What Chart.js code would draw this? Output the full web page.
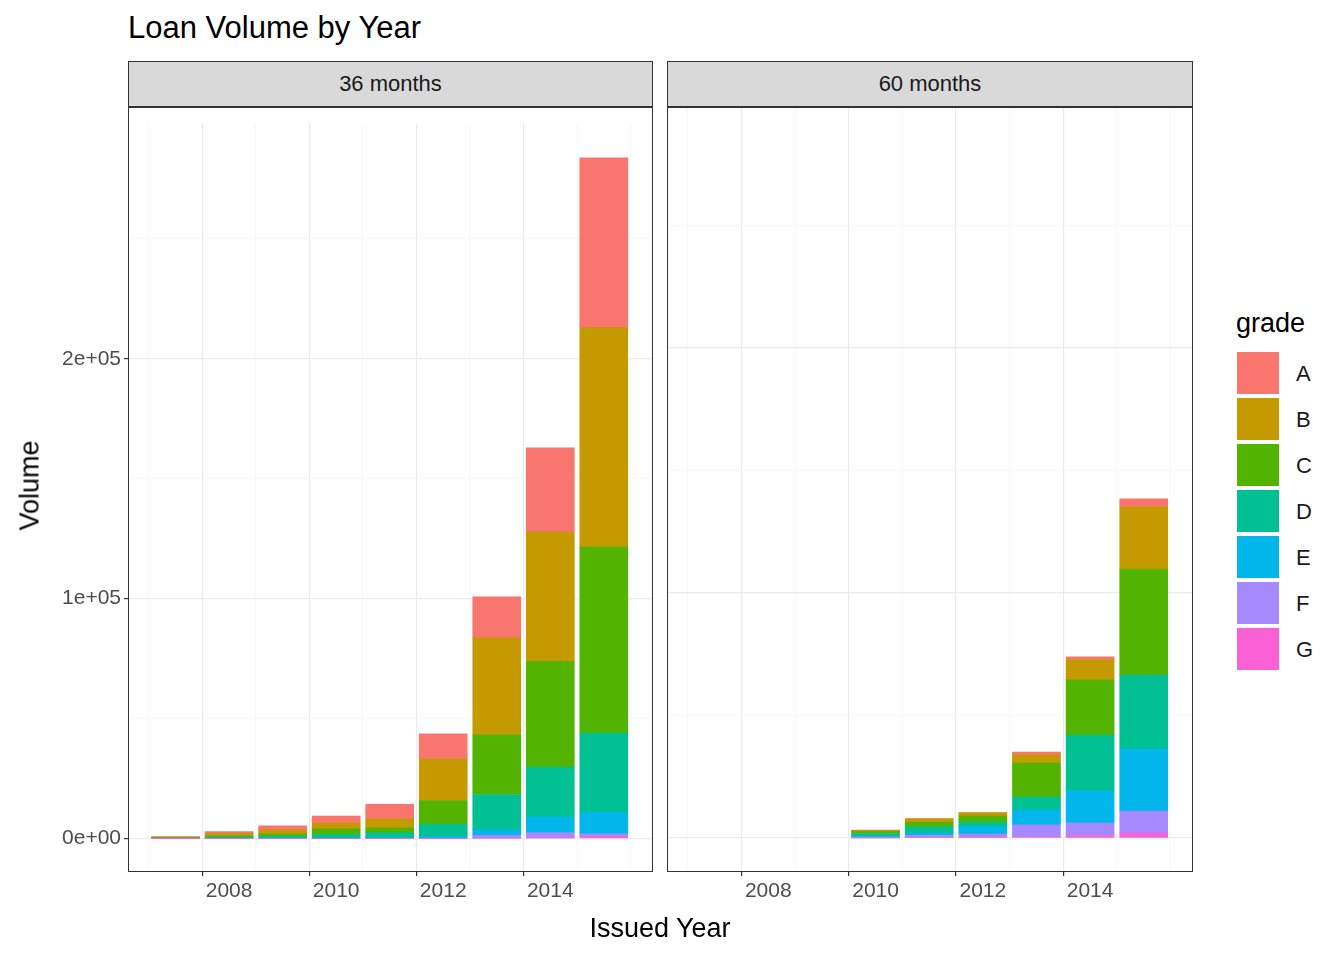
<!DOCTYPE html>
<html><head><meta charset="utf-8">
<script src="https://cdn.jsdelivr.net/npm/chart.js@4"></script>
<style>
body{margin:0;width:1344px;height:960px;background:#fff;font-family:Arial,"Liberation Sans",sans-serif;position:relative;overflow:hidden}
.abs{position:absolute}
.strip{position:absolute;top:61px;height:46px;background:#d9d9d9;border:1px solid #333;font-size:22px;color:#1a1a1a;display:flex;align-items:center;justify-content:center;box-sizing:border-box}
.frame{position:absolute;border:1px solid #333;box-sizing:border-box;pointer-events:none}
.sw{position:absolute;left:1237px;width:42px;height:42px}
.lab{position:absolute;left:1296px;font-size:22px;color:#1a1a1a}
</style></head><body>
<div class="abs" style="left:128px;top:10px;font-size:31px;color:#000">Loan Volume by Year</div>
<div class="strip" style="left:128px;width:525px">36 months</div>
<div class="strip" style="left:667px;width:526px">60 months</div>
<canvas id="c36" class="abs" style="left:0;top:108px"></canvas>
<canvas id="c60" class="abs" style="left:668px;top:108px"></canvas>
<div class="frame" style="left:128px;top:107px;width:525px;height:765px"></div>
<div class="frame" style="left:667px;top:107px;width:526px;height:765px"></div>
<div class="abs" style="left:560px;top:913px;width:200px;text-align:center;font-size:27px;color:#000">Issued Year</div>
<div class="abs" style="left:-60px;top:470px;width:180px;text-align:center;font-size:27px;color:#000;transform:rotate(-90deg)">Volume</div>
<div class="abs" style="left:1236px;top:308px;font-size:27px;color:#000">grade</div>
<div id="legend"></div>
<script>
const grades = ['A','B','C','D','E','F','G'];
const colors = ['#F8766D','#C49A00','#53B400','#00C094','#00B6EB','#A58AFF','#FB61D7'];
const years36 = [2007,2008,2009,2010,2011,2012,2013,2014,2015];
const years60 = [2010,2011,2012,2013,2014,2015];
// volume per grade, one entry per year
const vol36 = {
  A: [200, 800, 1600, 2900, 6100, 10600, 17100, 35100, 70700],
  B: [300, 900, 1700, 2400, 3700, 17200, 40400, 53900, 91400],
  C: [200, 700, 1000, 2300, 2100, 9800, 24900, 44100, 77600],
  D: [100, 500, 1000, 1800, 2000, 5100, 14700, 20800, 33000],
  E: [0, 0, 0, 0, 400, 1000, 2300, 6500, 9000],
  F: [0, 0, 0, 0, 0, 0, 1200, 2200, 1200],
  G: [0, 0, 0, 0, 0, 0, 200, 300, 800]
};
const vol60 = {
  A: [100, 100, 200, 1200, 1200, 3300],
  B: [500, 1300, 1200, 3300, 8200, 25300],
  C: [800, 2000, 2500, 13900, 22500, 43300],
  D: [1200, 2500, 2000, 5300, 22800, 30200],
  E: [600, 1000, 2900, 6100, 13100, 25300],
  F: [0, 800, 1300, 4800, 5100, 9000],
  G: [0, 200, 300, 500, 1000, 2000]
};
const yTicks = ['0e+00','1e+05','2e+05'];

const lg = document.getElementById('legend');
grades.forEach((g,i)=>{
  lg.insertAdjacentHTML('beforeend',
    `<div class="sw" style="top:${352+i*46}px;background:${colors[i]}"></div><div class="lab" style="top:${361+i*46}px">${g}</div>`);
});

function makeChart(id, years, vols, showY, width){
  const cv = document.getElementById(id);
  cv.width = width; cv.height = 852;
  cv.style.width = width+'px'; cv.style.height = '852px';
  const datasets = grades.slice().reverse().map(g=>({
    label: g,
    data: years.map((y,i)=>({x:y, y:vols[g][i]})),
    backgroundColor: colors[grades.indexOf(g)],
    borderWidth: 0,
    barThickness: 48
  }));
  return new Chart(cv, {
    type: 'bar',
    data: { datasets },
    options: {
      responsive: false, animation: false,
      layout: { padding: {left:0, right:0, top:0, bottom:0} },
      plugins: { legend:{display:false}, tooltip:{enabled:false} },
      scales: {
        x: {
          type: 'linear', stacked: true, offset: false,
          min: 2006.13, max: 2015.9,
          afterBuildTicks: s => { s.ticks = [2007,2008,2009,2010,2011,2012,2013,2014,2015].map(v=>({value:v})); },
          afterFit: s => { s.height = 89; },
          grid: {
            color: c => c.tick && c.tick.value % 2 === 0 ? '#ebebeb' : '#f5f5f5',
            lineWidth: c => c.tick && c.tick.value % 2 === 0 ? 1.2 : 0.7,
            tickLength: 5, tickColor: c => c.tick && c.tick.value % 2 === 0 ? '#333' : 'rgba(0,0,0,0)'
          },
          border: { display: false },
          ticks: { autoSkip:false, maxRotation:0, color:'#4d4d4d', font:{size:21, family:'Arial'},
                   callback: v => v % 2 === 0 ? String(v) : '' }
        },
        y: {
          stacked: true, min: -13500, max: 298000,
          afterBuildTicks: s => { s.ticks = [0,50000,100000,150000,200000,250000].map(v=>({value:v})); },
          afterFit: s => { s.width = showY ? 129 : 0; },
          grid: {
            color: c => c.tick && c.tick.value % 100000 === 0 ? '#ebebeb' : '#f5f5f5',
            lineWidth: c => c.tick && c.tick.value % 100000 === 0 ? 1.2 : 0.7,
            tickLength: showY ? 5 : 0,
            tickColor: c => c.tick && c.tick.value % 100000 === 0 ? '#333' : 'rgba(0,0,0,0)'
          },
          border: { display: false },
          ticks: { display: showY, color:'#4d4d4d', font:{size:21, family:'Arial'},
                   callback: v => v % 100000 === 0 ? yTicks[v/100000] : '' }
        }
      }
    }
  });
}
makeChart('c36', years36, vol36, true, 652);
makeChart('c60', years60, vol60, false, 524);
</script>
</body></html>
